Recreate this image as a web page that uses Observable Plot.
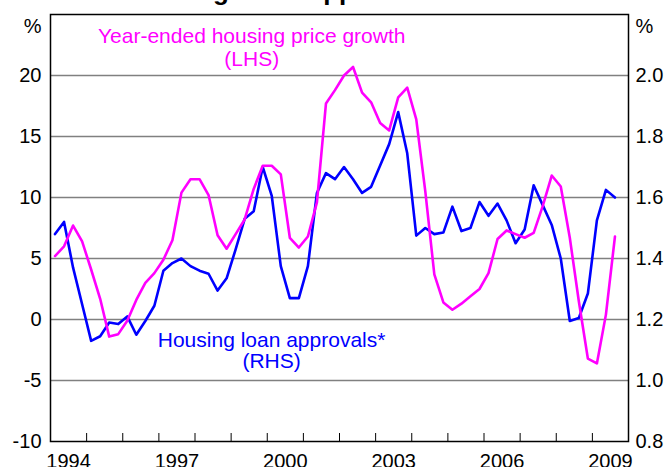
<!DOCTYPE html>
<html><head><meta charset="utf-8">
<script src="https://cdn.jsdelivr.net/npm/d3@7"></script>
<script src="https://cdn.jsdelivr.net/npm/@observablehq/plot@0.6"></script>
<style>body{margin:0;background:#fff;}</style>
</head><body><div id="chart"></div>
<script>
const title = "Housing Loan Approvals and Prices";
const startYear = 1994;
// quarterly, 1994 Q1 .. 2009 Q3
const priceGrowth = [5.2, 6.0, 7.7, 6.4, 4.1, 1.7, -1.4, -1.2, -0.1, 1.6, 3.0, 3.8, 4.9, 6.5, 10.4, 11.5,
  11.5, 10.2, 6.9, 5.8, 7.0, 8.2, 10.7, 12.6, 12.6, 11.9, 6.7, 5.9, 6.8, 9.6, 17.7, 18.8,
  20.0, 20.7, 18.6, 17.8, 16.1, 15.5, 18.2, 19.0, 16.4, 10.5, 3.7, 1.4, 0.8, 1.3, 1.9, 2.5,
  3.8, 6.6, 7.3, 7.0, 6.7, 7.1, 9.3, 11.8, 10.9, 6.7, 1.5, -3.2, -3.6, 0.4, 6.8];
const loanApprovals = [1.48, 1.52, 1.37, 1.25, 1.13, 1.145, 1.19, 1.185, 1.21, 1.15, 1.195, 1.245, 1.36, 1.385, 1.40, 1.375,
  1.36, 1.35, 1.295, 1.335, 1.43, 1.53, 1.555, 1.70, 1.605, 1.375, 1.27, 1.27, 1.375, 1.615, 1.68, 1.66,
  1.70, 1.66, 1.615, 1.635, 1.705, 1.775, 1.88, 1.745, 1.475, 1.50, 1.48, 1.485, 1.57, 1.49, 1.50, 1.585,
  1.54, 1.58, 1.525, 1.45, 1.495, 1.64, 1.575, 1.51, 1.40, 1.195, 1.205, 1.285, 1.525, 1.625, 1.60];
const yearLabels = [1994, 1997, 2000, 2003, 2006, 2009];
const leftTicks = [-10, -5, 0, 5, 10, 15, 20];
const rightTicks = [0.8, 1.0, 1.2, 1.4, 1.6, 1.8, 2.0];
const priceLabel = "Year-ended housing price growth\n(LHS)";
const loanLabel = "Housing loan approvals*\n(RHS)";

const toLeft = r => (r - 1.2) / 0.04;
const fromLeft = l => l * 0.04 + 1.2;
const qx = i => startYear + Math.floor(i / 4) + ((i % 4) + 0.5) / 4;
const price = priceGrowth.map((v, i) => ({x: qx(i), y: v}));
const loans = loanApprovals.map((v, i) => ({x: qx(i), y: toLeft(v)}));
const yearStarts = d3.range(startYear + 1, 2010);

const chart = Plot.plot({
  width: 667, height: 467,
  marginLeft: 50, marginRight: 39, marginTop: 14, marginBottom: 26,
  style: {fontFamily: "Arial, 'Liberation Sans', sans-serif", fontSize: "20px", background: "#fff", color: "#000"},
  x: {domain: [1994, 2010]},
  y: {domain: [-10, 25]},
  marks: [
    Plot.ruleY(leftTicks.slice(1), {stroke: "#808080", strokeWidth: 1.5}),
    Plot.axisY(leftTicks, {anchor: "left", tickSize: 0, tickPadding: 9, label: null, fontSize: 20,
      tickFormat: d => String(d)}),
    Plot.axisY(rightTicks.map(toLeft), {anchor: "right", tickSize: 0, tickPadding: 7, label: null, fontSize: 20,
      tickFormat: d => fromLeft(d).toFixed(1)}),
    Plot.axisX(yearStarts, {anchor: "bottom", tickSize: -8, tickFormat: () => "", label: null, strokeWidth: 1}),
    Plot.axisX(yearLabels.map(y => y + 0.5), {anchor: "bottom", tickSize: 0, tickPadding: 12, label: null, fontSize: 20,
      tickFormat: d => String(Math.floor(d))}),
    Plot.line(loans, {x: "x", y: "y", stroke: "#0000ff", strokeWidth: 2.6}),
    Plot.line(price, {x: "x", y: "y", stroke: "#ff00ff", strokeWidth: 2.6}),
    Plot.frame({stroke: "#000", strokeWidth: 1.5}),
    Plot.text([priceLabel], {x: 1999.57, y: 20.75, fill: "#ff00ff", fontSize: 21, lineAnchor: "bottom", lineHeight: 1.1, textAnchor: "middle"}),
    Plot.text([loanLabel], {x: 2000.12, y: -3.97, fill: "#0000ff", fontSize: 21, lineAnchor: "bottom", lineHeight: 1.02, textAnchor: "middle"}),
    Plot.text(["%"], {frameAnchor: "top-left", dx: -9, dy: 12, textAnchor: "end", lineAnchor: "middle", fontSize: 20}),
    Plot.text(["%"], {frameAnchor: "top-right", dx: 7, dy: 12, textAnchor: "start", lineAnchor: "middle", fontSize: 20}),
    Plot.text([title], {frameAnchor: "top", dx: 8, dy: -15, lineAnchor: "bottom", fontWeight: "bold", fontSize: 26})
  ]
});
document.getElementById("chart").appendChild(chart);
</script>
</body></html>
